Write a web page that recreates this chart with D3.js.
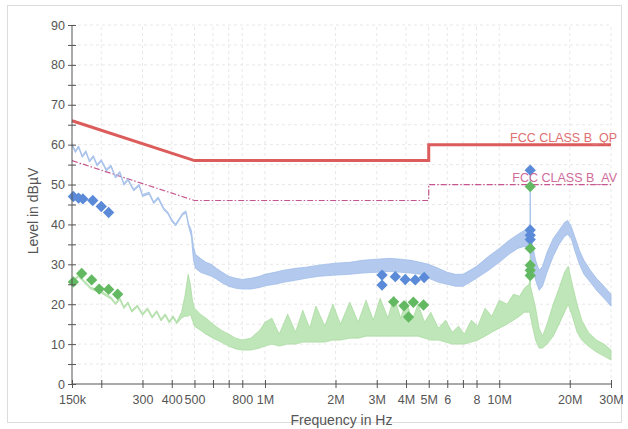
<!DOCTYPE html>
<html>
<head>
<meta charset="utf-8">
<script src="https://cdnjs.cloudflare.com/ajax/libs/d3/7.8.5/d3.min.js"></script>
<style>
  body { margin: 0; background: #fff; }
  text { font-family: "Liberation Sans", Arial, sans-serif; }
</style>
</head>
<body>
<div id="chart"></div>
<script>
// frequency in MHz, level in dBuV

var qpLimit = [[0.15, 66], [0.5, 56], [5, 56], [5, 60], [30, 60]];
var avLimit = [[0.15, 56], [0.5, 46], [5, 46], [5, 50], [30, 50]];

// peak scan, read as [freq, low edge, high edge] of the drawn trace
var peakTrace = [
  [0.150, 59.8, 60.3], [0.155, 58.0, 58.5], [0.160, 59.2, 59.7], [0.166, 56.8, 57.3],
  [0.172, 58.0, 58.5], [0.178, 55.6, 56.1], [0.185, 56.8, 57.3], [0.192, 54.6, 55.1],
  [0.200, 55.8, 56.3], [0.210, 53.4, 53.9], [0.220, 54.4, 54.9], [0.230, 51.6, 52.1],
  [0.240, 52.8, 53.3], [0.250, 49.8, 50.3], [0.260, 51.0, 51.5], [0.275, 48.4, 48.9],
  [0.290, 49.6, 50.1], [0.300, 47.0, 47.5], [0.320, 47.6, 48.1], [0.335, 45.2, 45.7],
  [0.350, 46.4, 46.9], [0.370, 43.6, 44.1], [0.385, 42.6, 43.1], [0.400, 40.8, 41.3],
  [0.415, 39.6, 40.1], [0.430, 41.0, 41.5], [0.445, 42.4, 42.9], [0.460, 42.8, 43.4],
  [0.472, 39.4, 40.2], [0.485, 37.0, 38.5], [0.495, 31.0, 34.5], [0.505, 29.0, 32.5],
  [0.530, 28.0, 31.5], [0.560, 27.5, 30.5], [0.590, 27.0, 30.0], [0.620, 26.3, 29.0],
  [0.650, 25.5, 28.2], [0.700, 24.5, 27.0], [0.750, 24.0, 26.5], [0.800, 23.8, 26.2],
  [0.870, 23.8, 26.5], [0.950, 24.2, 27.0], [1.00, 24.6, 27.5], [1.10, 25.0, 28.0],
  [1.20, 25.5, 28.5], [1.35, 26.0, 29.0], [1.50, 26.5, 29.3], [1.70, 27.0, 29.8],
  [2.00, 27.3, 30.3], [2.30, 27.5, 30.5], [2.60, 27.8, 31.0], [3.00, 28.0, 31.3],
  [3.40, 28.2, 31.5], [3.80, 28.0, 31.3], [4.20, 27.8, 31.0], [4.60, 27.5, 30.5],
  [5.00, 26.5, 30.0], [5.50, 25.5, 29.0], [6.00, 25.0, 28.0], [6.50, 24.5, 27.5],
  [7.00, 24.5, 27.5], [7.50, 25.5, 28.5], [8.00, 26.5, 29.5], [9.00, 28.5, 32.0],
  [10.0, 30.5, 34.0], [11.0, 32.5, 36.0], [12.0, 34.0, 37.5], [12.8, 34.5, 38.5],
  [13.4, 33.5, 39.0], [13.53, 33.0, 40.0], [13.56, 32.0, 53.0], [13.59, 32.0, 38.0],
  [13.8, 30.0, 35.5], [14.3, 26.0, 31.0], [14.8, 23.5, 28.5], [15.3, 24.5, 29.5],
  [16.0, 28.0, 33.0], [17.0, 32.0, 36.5], [18.0, 35.0, 38.5], [19.0, 37.0, 40.5],
  [19.6, 37.5, 41.0], [20.3, 36.5, 39.5], [21.0, 33.5, 37.0], [22.0, 30.0, 33.5],
  [23.0, 27.5, 31.0], [24.5, 25.5, 28.5], [26.0, 23.5, 26.5], [28.0, 21.5, 24.5],
  [30.0, 19.5, 22.5]
];

// average scan
var avgTrace = [
  [0.150, 25.3, 25.8], [0.160, 26.8, 27.3], [0.170, 25.3, 25.8], [0.180, 23.8, 24.3],
  [0.190, 23.3, 23.8], [0.200, 22.8, 23.3], [0.210, 22.0, 22.5], [0.220, 21.3, 21.8],
  [0.230, 19.9, 20.4], [0.240, 21.1, 21.6], [0.250, 18.9, 19.4], [0.260, 20.1, 20.6],
  [0.270, 18.0, 18.5], [0.285, 19.3, 19.8], [0.300, 17.2, 17.7], [0.315, 18.6, 19.1],
  [0.330, 16.5, 17.0], [0.345, 17.9, 18.4], [0.360, 15.8, 16.3], [0.375, 17.1, 17.6],
  [0.390, 15.3, 15.8], [0.405, 16.6, 17.1], [0.420, 15.1, 15.6], [0.440, 16.5, 18.0],
  [0.455, 17.0, 22.0], [0.470, 17.0, 27.5], [0.480, 17.5, 25.0], [0.490, 16.0, 21.0],
  [0.500, 14.5, 19.0], [0.530, 13.5, 17.5], [0.560, 12.5, 16.5], [0.600, 11.5, 15.0],
  [0.650, 10.5, 13.5], [0.700, 9.5, 12.5], [0.750, 8.8, 11.5], [0.800, 8.5, 11.0],
  [0.870, 8.5, 11.5], [0.950, 9.0, 13.5], [1.00, 9.5, 15.5], [1.07, 10.0, 16.5],
  [1.15, 9.5, 12.5], [1.25, 10.0, 17.5], [1.35, 10.0, 13.0], [1.45, 10.5, 18.5],
  [1.55, 10.5, 14.0], [1.65, 10.5, 19.5], [1.80, 10.5, 14.5], [1.95, 11.0, 20.0],
  [2.10, 11.0, 15.0], [2.30, 11.5, 20.5], [2.50, 11.5, 15.5], [2.70, 12.0, 21.0],
  [2.90, 12.0, 16.0], [3.10, 12.0, 21.5], [3.35, 12.0, 16.5], [3.55, 12.0, 22.0],
  [3.80, 12.0, 16.5], [4.00, 12.0, 21.0], [4.25, 12.0, 16.0], [4.50, 12.0, 20.0],
  [4.80, 11.5, 15.5], [5.10, 11.0, 18.0], [5.50, 11.0, 14.0], [5.90, 10.5, 16.0],
  [6.30, 10.0, 13.0], [6.70, 10.0, 14.5], [7.10, 10.0, 12.5], [7.60, 10.5, 16.0],
  [8.10, 11.0, 14.5], [8.70, 12.0, 19.0], [9.30, 13.0, 17.0], [10.0, 14.0, 21.0],
  [10.8, 15.0, 20.0], [11.5, 16.0, 22.5], [12.2, 17.0, 22.0], [12.8, 18.0, 24.0],
  [13.4, 18.0, 25.0], [13.53, 18.0, 26.0], [13.56, 17.0, 32.0], [13.59, 17.0, 24.5],
  [13.8, 15.0, 23.0], [14.3, 11.0, 19.0], [14.8, 9.0, 14.0], [15.3, 9.0, 12.0],
  [16.0, 10.0, 15.0], [17.0, 12.0, 20.0], [18.0, 15.0, 24.0], [19.0, 18.0, 28.0],
  [19.7, 20.0, 29.5], [20.5, 17.0, 25.0], [21.5, 13.0, 20.0], [22.5, 11.0, 16.0],
  [24.0, 9.5, 13.0], [26.0, 8.0, 11.0], [28.0, 7.0, 10.0], [30.0, 6.0, 8.5]
];

// final measurement points
var peakMarks = [
  [0.152, 47.0], [0.160, 46.6], [0.167, 46.4], [0.184, 46.0], [0.200, 44.5], [0.215, 43.0],
  [3.16, 27.3], [3.16, 24.8], [3.60, 26.9], [3.97, 26.2], [4.38, 26.1], [4.78, 26.7],
  [13.56, 53.6], [13.56, 38.6], [13.56, 37.3], [13.56, 36.2]
];
var avgMarks = [
  [0.152, 25.6], [0.165, 27.7], [0.182, 26.1], [0.196, 23.8], [0.215, 23.7], [0.235, 22.5],
  [3.54, 20.6], [3.92, 19.6], [4.10, 16.8], [4.30, 20.5], [4.75, 19.8],
  [13.56, 49.5], [13.56, 34.0], [13.56, 29.8], [13.56, 28.5], [13.56, 27.2]
];

var xTicks = [0.15, 0.2, 0.3, 0.4, 0.5, 0.6, 0.7, 0.8, 1, 2, 3, 4, 5, 6, 7, 8, 10, 20, 30];
var xTickLabels = ["150k", "", "300", "400", "500", "", "", "800", "1M", "2M", "3M", "4M",
  "5M", "6", "", "8", "10M", "20M", "30M"];
var yTicks = [0, 10, 20, 30, 40, 50, 60, 70, 80, 90];
var yMinorTicks = [5, 15, 25, 35, 45, 55, 65, 75, 85];

var width = 628, height = 429;

var svg = d3.select("#chart").append("svg")
  .attr("width", width)
  .attr("height", height);

svg.append("rect")
  .attr("width", width).attr("height", height)
  .attr("fill", "#fff");

// faint frame of the original print
svg.append("rect")
  .attr("x", 7.5).attr("y", 5.5)
  .attr("width", 614).attr("height", 417)
  .attr("fill", "none")
  .attr("stroke", "#dcdcdc");

var x = d3.scaleLog().domain([0.15, 30]).range([72, 611]);
var y = d3.scaleLinear().domain([0, 90]).range([384, 25]);

// grid
var grid = svg.append("g").attr("class", "grid")
  .attr("stroke", "#e8e8e8")
  .attr("stroke-dasharray", "3,3");
grid.selectAll("line.v")
  .data(xTicks.slice(1))
  .enter().append("line")
  .attr("class", "v")
  .attr("x1", function(d) { return x(d); })
  .attr("x2", function(d) { return x(d); })
  .attr("y1", y(0)).attr("y2", y(90));
grid.selectAll("line.h")
  .data(yTicks.slice(1).concat(yMinorTicks))
  .enter().append("line")
  .attr("class", "h")
  .attr("x1", x(0.15)).attr("x2", x(30))
  .attr("y1", function(d) { return y(d); })
  .attr("y2", function(d) { return y(d); });

// limit lines
var limitLine = d3.line()
  .x(function(d) { return x(d[0]); })
  .y(function(d) { return y(d[1]); });

svg.append("path")
  .datum(avLimit)
  .attr("d", limitLine)
  .attr("fill", "none")
  .attr("stroke", "#c4558e")
  .attr("stroke-width", 1.2)
  .attr("stroke-dasharray", "6,2,1.5,2");

svg.append("path")
  .datum(qpLimit)
  .attr("d", limitLine)
  .attr("fill", "none")
  .attr("stroke", "#dc5b5b")
  .attr("stroke-width", 3);

// traces
var band = d3.area()
  .x(function(d) { return x(d[0]); })
  .y0(function(d) { return y(d[1]); })
  .y1(function(d) { return y(d[2]); });

svg.append("path")
  .datum(peakTrace)
  .attr("d", band)
  .attr("fill", "#b3caee")
  .attr("stroke", "#9ab7e6")
  .attr("stroke-width", 0.7);

svg.append("path")
  .datum(avgTrace)
  .attr("d", band)
  .attr("fill", "#bfe6b8")
  .attr("stroke", "#a3d89a")
  .attr("stroke-width", 0.7);

// markers
var diamond = d3.symbol().type(d3.symbolSquare).size(64);

function drawMarks(data, color) {
  svg.append("g").selectAll("path")
    .data(data)
    .enter().append("path")
    .attr("d", diamond)
    .attr("transform", function(d) {
      return "translate(" + x(d[0]) + "," + y(d[1]) + ") rotate(45)";
    })
    .attr("fill", color);
}
drawMarks(peakMarks, "#5b8bd8");
drawMarks(avgMarks, "#63b862");

// limit labels
svg.append("text")
  .attr("x", 617).attr("y", 142)
  .attr("text-anchor", "end")
  .attr("font-size", 12.5)
  .attr("fill", "#de6f72")
  .text("FCC CLASS B_QP");
svg.append("text")
  .attr("x", 617).attr("y", 182)
  .attr("text-anchor", "end")
  .attr("font-size", 12.5)
  .attr("fill", "#cf6b98")
  .text("FCC CLASS B_AV");

// axes
var axisColor = "#555";

var yAxis = svg.append("g")
  .attr("transform", "translate(" + x(0.15) + ",0)")
  .call(d3.axisLeft(y).tickValues(yTicks.concat(yMinorTicks)).tickSize(4)
    .tickFormat(function(d) { return d % 10 === 0 ? d : ""; }));
yAxis.select(".domain").attr("d", "M0," + y(0) + "V" + y(90)).attr("stroke", axisColor);
yAxis.selectAll(".tick line").attr("x1", 4).attr("stroke", axisColor);
yAxis.selectAll(".tick text")
  .attr("x", -7)
  .attr("font-size", 12.5)
  .attr("font-family", "Liberation Sans, Arial, sans-serif")
  .attr("fill", "#555");

var xAxis = svg.append("g")
  .attr("transform", "translate(0," + y(0) + ")")
  .call(d3.axisBottom(x).tickValues(xTicks).tickSize(4)
    .tickFormat(function(d, i) { return xTickLabels[i]; }));
xAxis.select(".domain").attr("d", "M" + x(0.15) + ",0H" + x(30)).attr("stroke", axisColor);
xAxis.selectAll(".tick line").attr("y1", -4).attr("stroke", axisColor);
xAxis.selectAll(".tick text")
  .attr("y", 11)
  .attr("font-size", 12.5)
  .attr("font-family", "Liberation Sans, Arial, sans-serif")
  .attr("fill", "#555");

// axis titles
svg.append("text")
  .attr("transform", "translate(38," + 211 + ") rotate(-90)")
  .attr("text-anchor", "middle")
  .attr("font-size", 14)
  .attr("fill", "#555")
  .text("Level in dBµV");

svg.append("text")
  .attr("x", (x(0.15) + x(30)) / 2)
  .attr("y", 425)
  .attr("text-anchor", "middle")
  .attr("font-size", 14)
  .attr("fill", "#555")
  .text("Frequency in Hz");
</script>
</body>
</html>
